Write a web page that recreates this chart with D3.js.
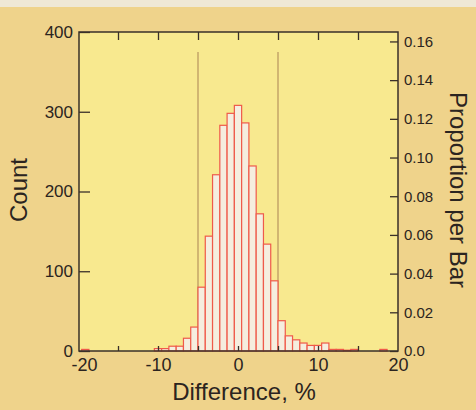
<!DOCTYPE html>
<html>
<head>
    <meta charset="utf-8">
    <title>Difference histogram</title>
    <script src="https://cdn.jsdelivr.net/npm/d3@7/dist/d3.min.js" type="text/javascript" charset="utf-8"></script>
    <style>
        body { margin: 0; background: #efd38b; }
        svg text { font-family: "Liberation Sans", Arial, sans-serif; fill: #2b2420; }
    </style>
</head>
<body>
</body>
<script type="text/javascript">
    // histogram bins: first left edge and width (in %), counts
    var firstEdge = -5 - 16 * 10 / 11,
        binWidth = 10 / 11;
    var counts = [2, 0, 0, 0, 0, 0, 0, 0, 0, 0, 3, 3, 6, 6, 16, 30,
                  80, 144, 221, 283, 298, 308, 286, 232, 172, 134, 88,
                  38, 19, 14, 10, 7, 7, 10, 2, 2, 1, 2, 0, 0, 0, 2];
    var refLines = [-5, 5];
    var refTop = 375;
    var xLabels = [-20, -10, 0, 10, 20],
        xTicks = [-15, -10, -5, 0, 5, 10, 15],
        countTicks = [0, 100, 200, 300, 400],
        propTicks = [0, 0.02, 0.04, 0.06, 0.08, 0.10, 0.12, 0.14, 0.16];

    var width = 476,
        height = 410,
        pLeft = 79, pRight = 398, pTop = 32, pBottom = 351;

    var total = d3.sum(counts);
    var bins = counts.map(function(c, i) {
        return { x0: firstEdge + i * binWidth, x1: firstEdge + (i + 1) * binWidth, n: c };
    });

    var svg = d3.select("body").append("svg")
        .attr("width", width)
        .attr("height", height);

    svg.append("rect").attr("width", width).attr("height", height).attr("fill", "#efd38b");
    svg.append("rect").attr("width", width).attr("height", 7).attr("fill", "#efe8d6");

    var x = d3.scaleLinear().domain([-20, 20]).range([pLeft - 1, pRight]);
    var y = d3.scaleLinear().domain([0, 400]).range([pBottom, pTop]);
    var yp = d3.scaleLinear().domain([0, 400 / total]).range([pBottom, pTop]);

    // plot area
    svg.append("rect")
        .attr("x", pLeft).attr("y", pTop)
        .attr("width", pRight - pLeft).attr("height", pBottom - pTop)
        .attr("fill", "#f8e98f");

    // reference lines at +-5 %
    svg.selectAll(".ref").data(refLines).enter().append("line")
        .attr("x1", function(d) { return x(d); })
        .attr("x2", function(d) { return x(d); })
        .attr("y1", y(refTop)).attr("y2", pBottom)
        .attr("stroke", "#b8945e").attr("stroke-width", 1.2);

    // bars
    svg.selectAll(".bar").data(bins.filter(function(d) { return d.n > 0; })).enter().append("rect")
        .attr("x", function(d) { return x(d.x0); })
        .attr("y", function(d) { return y(d.n); })
        .attr("width", function(d) { return x(d.x1) - x(d.x0); })
        .attr("height", function(d) { return pBottom - y(d.n); })
        .attr("fill", "#f5eedf")
        .attr("stroke", "#ef5a4a")
        .attr("stroke-width", 1.2);

    // axes
    function clean(g) {
        g.select(".domain").remove();
        g.selectAll("line").attr("stroke", "#3a302a").attr("stroke-width", 1.3);
    }

    svg.append("g").attr("transform", "translate(0," + pBottom + ")")
        .call(d3.axisBottom(x).tickValues(xLabels).tickSize(0).tickPadding(7)
            .tickFormat(function(d) { return String(d); }))
        .call(clean)
        .selectAll("text").attr("font-size", 18)
        .attr("dx", function(d) { return d === -20 ? 6 : 0; });
    svg.append("g").attr("transform", "translate(0," + pBottom + ")")
        .call(d3.axisBottom(x).tickValues(xTicks).tickFormat("").tickSizeInner(-5).tickSizeOuter(0))
        .call(clean);
    svg.append("g").attr("transform", "translate(0," + pTop + ")")
        .call(d3.axisTop(x).tickValues(xTicks).tickFormat("").tickSizeInner(-8).tickSizeOuter(0))
        .call(clean);

    svg.append("g").attr("transform", "translate(" + pLeft + ",0)")
        .call(d3.axisLeft(y).tickValues(countTicks).tickSizeInner(-11).tickSizeOuter(0).tickPadding(6))
        .call(clean)
        .selectAll("text").attr("font-size", 17);

    svg.append("g").attr("transform", "translate(" + pRight + ",0)")
        .call(d3.axisRight(yp).tickValues(propTicks).tickSizeInner(-8).tickSizeOuter(0).tickPadding(6)
            .tickFormat(function(d) { return d === 0 ? "0.0" : d3.format(".2f")(d); }))
        .call(clean)
        .selectAll("text").attr("font-size", 15);

    // frame
    svg.append("rect")
        .attr("x", pLeft).attr("y", pTop)
        .attr("width", pRight - pLeft).attr("height", pBottom - pTop)
        .attr("fill", "none").attr("stroke", "#3a302a").attr("stroke-width", 1.5);

    // titles
    svg.append("text")
        .attr("x", 244).attr("y", 400)
        .attr("text-anchor", "middle").attr("font-size", 24)
        .text("Difference, %");
    svg.append("text")
        .attr("transform", "translate(27,190) rotate(-90)")
        .attr("text-anchor", "middle").attr("font-size", 24)
        .text("Count");
    svg.append("text")
        .attr("transform", "translate(450,190) rotate(90)")
        .attr("text-anchor", "middle").attr("font-size", 24)
        .text("Proportion per Bar");
</script>
</html>
